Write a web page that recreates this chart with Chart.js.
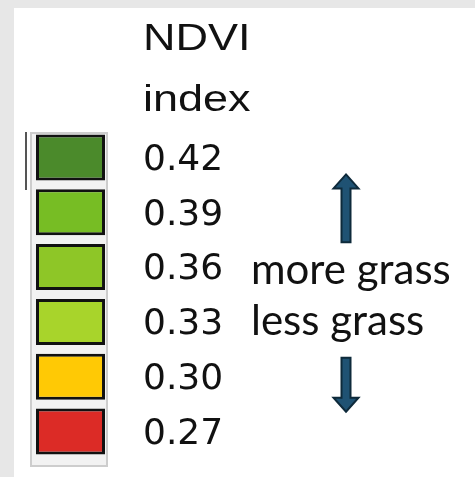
<!DOCTYPE html>
<html>
<head>
<meta charset="utf-8">
<title>NDVI index</title>
<script src="https://cdn.jsdelivr.net/npm/chart.js@4.4.1/dist/chart.umd.min.js"></script>
<style>
  html, body { margin: 0; padding: 0; background: #ffffff; }
  canvas { display: block; }
</style>
</head>
<body>
<canvas id="chartNdviLegend" width="475" height="477"></canvas>
<script>
// legend classes, top to bottom
var ndviValues = [0.42, 0.39, 0.36, 0.33, 0.30, 0.27];
var ndviColors = ['#4b8a2b', '#77bd24', '#8ec627', '#a8d42b', '#ffc905', '#dc2b26'];
var titleLines = ['NDVI', 'index'];
var moreText = 'more grass';
var lessText = 'less grass';

var ndviLabels = ndviValues.map(function (v) { return v.toFixed(2); });
// every swatch spans the full x range
var swatches = ndviValues.map(function () { return [0, 1]; });

function drawArrow(ctx, x, yTip, yEnd, headLen, headW, shaftW) {
    var dir = yEnd > yTip ? 1 : -1;
    var yHead = yTip + dir * headLen;
    ctx.beginPath();
    ctx.moveTo(x, yTip);
    ctx.lineTo(x + headW / 2, yHead);
    ctx.lineTo(x + shaftW / 2, yHead);
    ctx.lineTo(x + shaftW / 2, yEnd);
    ctx.lineTo(x - shaftW / 2, yEnd);
    ctx.lineTo(x - shaftW / 2, yHead);
    ctx.lineTo(x - headW / 2, yHead);
    ctx.closePath();
    ctx.fillStyle = '#1f5273';
    ctx.fill();
    ctx.strokeStyle = '#0e2a3b';
    ctx.lineWidth = 2;
    ctx.stroke();
}

var legendDecor = {
    id: 'legendDecor',
    beforeDraw: function (chart) {
        var ctx = chart.ctx, area = chart.chartArea;
        ctx.save();
        // grey page with white panel
        ctx.fillStyle = '#e7e7e7';
        ctx.fillRect(0, 0, chart.width, chart.height);
        ctx.fillStyle = '#ffffff';
        ctx.fillRect(14, 8, chart.width - 14, chart.height - 8);
        // box behind the swatches
        ctx.fillStyle = '#f2f2f2';
        ctx.fillRect(area.left, area.top + 2, area.right - area.left - 2, area.bottom - area.top + 5);
        ctx.strokeStyle = '#cdcdcd';
        ctx.lineWidth = 2;
        ctx.strokeRect(area.left + 1, area.top + 3, area.right - area.left - 4, area.bottom - area.top + 4);
        ctx.fillStyle = '#555555';
        ctx.fillRect(area.left - 5, area.top + 2, 2, 58);
        ctx.restore();
    },
    afterDraw: function (chart) {
        var ctx = chart.ctx, y = chart.scales.y;
        var row = function (i) { return y.getPixelForTick(i); };
        ctx.save();
        ctx.fillStyle = '#111111';
        ctx.textBaseline = 'alphabetic';
        ctx.textAlign = 'left';
        // title, stretched a bit like the source picture
        ctx.font = '36px "Liberation Sans", Arial, sans-serif';
        titleLines.forEach(function (t, i) {
            ctx.save();
            ctx.translate(143, 50 + i * 61);
            ctx.scale(1.25, 1);
            ctx.fillText(t, 0, 0);
            ctx.restore();
        });
        // more / less grass
        ctx.font = '42px Lato, "Open Sans", sans-serif';
        ctx.fillText(moreText, 251, row(2) + 17);
        ctx.fillText(lessText, 251, row(3) + 13);
        // arrows
        drawArrow(ctx, 346, row(0) + 17, row(1) + 30, 14, 25, 9);
        drawArrow(ctx, 346, row(4) + 35, row(4) - 19, 14, 25, 9);
        ctx.restore();
    }
};

var ctx = document.getElementById('chartNdviLegend');
var ndviChart = new Chart(ctx, {
    type: 'bar',
    data: {
        labels: ndviLabels,
        datasets: [{
            data: swatches,
            backgroundColor: ndviColors,
            borderColor: '#111111',
            borderWidth: 3,
            borderSkipped: false,
            barPercentage: 0.84,
            categoryPercentage: 1
        }]
    },
    options: {
        indexAxis: 'y',
        responsive: false,
        animation: false,
        devicePixelRatio: 1,
        layout: {
            padding: { left: 30, right: 35, top: 130, bottom: 18 }
        },
        plugins: {
            legend: { display: false },
            tooltip: { enabled: false }
        },
        scales: {
            x: { display: false, min: -0.087, max: 1.072 },
            y: {
                position: 'right',
                grid: { display: false, drawTicks: false },
                border: { display: false },
                ticks: {
                    color: '#111111',
                    padding: 33,
                    labelOffset: 3,
                    font: { family: 'DejaVu Sans', size: 36 }
                },
                afterFit: function (scale) {
                    // fixed width, and no extra room above/below for the labels
                    scale.width = 330;
                    scale.paddingTop = 0;
                    scale.paddingBottom = 0;
                }
            }
        }
    },
    plugins: [legendDecor]
});
</script>
</body>
</html>
